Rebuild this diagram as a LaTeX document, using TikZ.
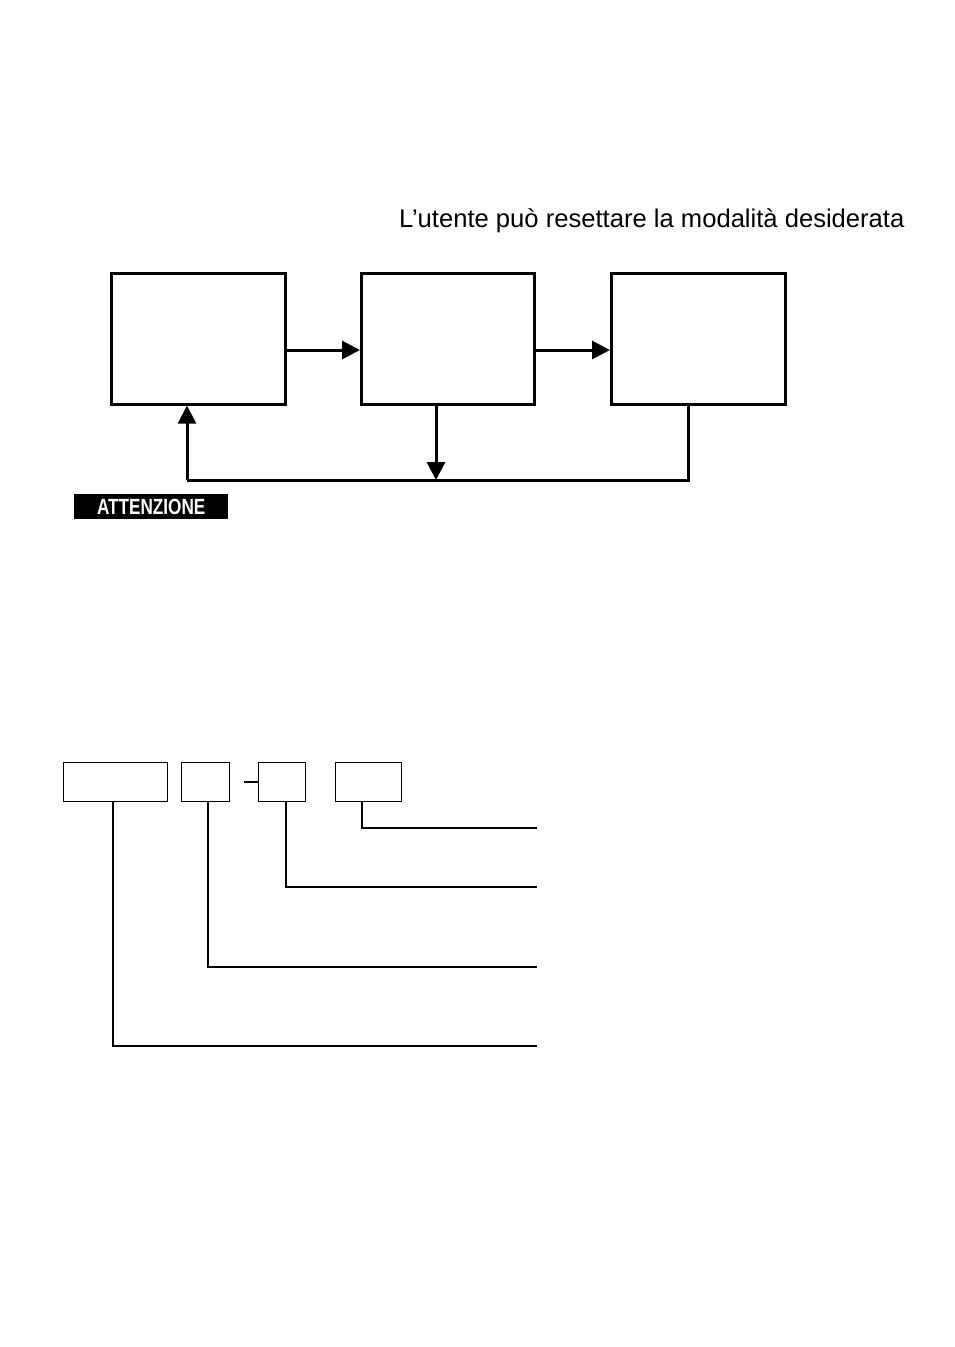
\documentclass[tikz,border=0pt]{standalone}
\usepackage{fontspec}
\setmainfont{Liberation Sans}
\usetikzlibrary{arrows.meta}
\begin{document}
\begin{tikzpicture}[x=1pt,y=-1pt,
  bigbox/.style={draw,line width=2.6pt,inner sep=0pt,anchor=north west},
  smallbox/.style={draw,line width=1.4pt,inner sep=0pt,anchor=north west},
  flow/.style={line width=3pt,-{Triangle[length=18pt,width=18pt]}},
  lead/.style={line width=1.4pt}]
\useasboundingbox (0,0) rectangle (954,1347);
\node[anchor=base west,font=\fontsize{25.6pt}{28pt}\selectfont,inner sep=0pt] (title) at (399,227) {L’utente può resettare la modalità desiderata};
\node[bigbox,minimum width=174pt,minimum height=131pt] (A) at (110,272) {};
\node[bigbox,minimum width=173pt,minimum height=131pt] (B) at (360,272) {};
\node[bigbox,minimum width=174pt,minimum height=131pt] (C) at (610,272) {};
\coordinate (r1) at (0,350);
\draw[flow] (A.east |- r1) -- (B.west |- r1);
\draw[flow] (B.east |- r1) -- (C.west |- r1);
\coordinate (m) at (436,480);
\coordinate (cl) at (688,480);
\coordinate (al) at (187,480);
\draw[flow] (B.south -| m) -- (m);
\draw[line width=3pt] (C.south -| cl) -- (cl) -- (al);
\draw[flow] (al) -- (al |- A.south);
\node[fill=black,text=white,anchor=north west,minimum width=154pt,minimum height=25pt,inner sep=0pt,font=\bfseries\fontsize{22pt}{24pt}\selectfont] (att) at (74,494) {\scalebox{0.78}[1]{ATTENZIONE}};
\node[smallbox,minimum width=104pt,minimum height=39pt] (s1) at (63,762) {};
\node[smallbox,minimum width=48pt,minimum height=39pt] (s2) at (181,762) {};
\node[smallbox,minimum width=47pt,minimum height=39pt] (s3) at (258,762) {};
\node[smallbox,minimum width=66pt,minimum height=39pt] (s4) at (335,762) {};
\coordinate (d) at (244,782);
\draw[lead] (d) -- (d -| s3.west);
\coordinate (e4) at (537,828);
\coordinate (e3) at (537,887);
\coordinate (e2) at (537,967);
\coordinate (e1) at (537,1046);
\draw[lead] (362,801) |- (e4);
\draw[lead] (286,801) |- (e3);
\draw[lead] (208,801) |- (e2);
\draw[lead] (113,801) |- (e1);
\end{tikzpicture}
\end{document}
